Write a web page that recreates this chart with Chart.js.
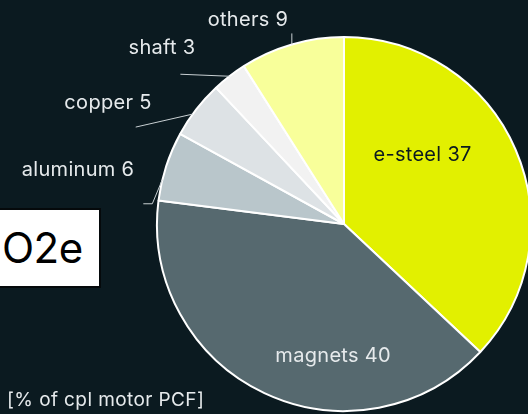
<!DOCTYPE html>
<html>
<head>
<meta charset="utf-8">
<script src="https://cdn.jsdelivr.net/npm/chart.js@4.4.1/dist/chart.umd.min.js"></script>
<style>
  html, body { margin: 0; padding: 0; background: #0b1a20; overflow: hidden; width: 528px; height: 414px; }
  #wrap { position: absolute; left: 0; top: 0; width: 540px; height: 414px; }
  #unit {
    position: absolute; left: -6px; top: 208px; width: 97px; height: 76px;
    background: #fff; border: 2px solid #05090b;
    font: 42px Inter, sans-serif; color: #000; line-height: 76px;
    padding-left: 6px; box-sizing: content-box; letter-spacing: -0.5px;
  }
  #note {
    position: absolute; left: 7px; top: 388px;
    font: 19px Inter, sans-serif; color: #e6eaec; white-space: nowrap; letter-spacing: 0.4px;
  }
</style>
</head>
<body>
<div id="wrap"><canvas id="pcfChart"></canvas></div>
<div id="unit">O2e</div>
<div id="note">[% of cpl motor PCF]</div>
<script>
const parts = ['e-steel', 'magnets', 'aluminum', 'copper', 'shaft', 'others'];
const shares = [37, 40, 6, 5, 3, 9];
const colors = ['#e2f000', '#56696f', '#b9c6cb', '#dde2e5', '#f2f2f2', '#f8ff9a'];

// label placement: inside labels as fraction of radius from centre,
// outside labels get a leader line from the slice edge
const labelSpots = [
  { inside: true, dx: 0.42, dy: -0.367, color: '#0b1a20' },
  { inside: true, dx: -0.058, dy: 0.707, color: '#e6eaec' },
  { t: 0.3, path: [[-10, 24], [-19, 24]], text: [78, 170] },
  { t: 0.4, path: [[-57, 13]], text: [108, 103] },
  { t: 0.5, path: [[-49, -2]], text: [162, 48] },
  { t: 0.5, path: [[0, -11]], text: [248, 20] }
];

const pieLabels = {
  id: 'pieLabels',
  afterDatasetsDraw(chart) {
    const ctx = chart.ctx;
    const arcs = chart.getDatasetMeta(0).data;
    ctx.save();
    ctx.font = '20px Inter, sans-serif';
    ctx.letterSpacing = '0.3px';
    ctx.textAlign = 'center';
    ctx.textBaseline = 'middle';
    arcs.forEach((arc, i) => {
      const spot = labelSpots[i];
      const text = parts[i] + ' ' + shares[i];
      const { x, y, outerRadius, startAngle, endAngle } = arc.getProps(['x', 'y', 'outerRadius', 'startAngle', 'endAngle'], true);
      if (spot.inside) {
        ctx.fillStyle = spot.color;
        ctx.fillText(text, x + spot.dx * outerRadius, y + spot.dy * outerRadius);
        return;
      }
      const a = startAngle + (endAngle - startAngle) * spot.t;
      const ex = x + Math.cos(a) * outerRadius;
      const ey = y + Math.sin(a) * outerRadius;
      ctx.strokeStyle = '#c9d0d3';
      ctx.lineWidth = 1;
      ctx.beginPath();
      ctx.moveTo(ex, ey);
      spot.path.forEach(p => ctx.lineTo(ex + p[0], ey + p[1]));
      ctx.stroke();
      ctx.fillStyle = '#e6eaec';
      ctx.fillText(text, spot.text[0], spot.text[1]);
    });
    ctx.restore();
  }
};

new Chart(document.getElementById('pcfChart'), {
  type: 'pie',
  data: {
    labels: parts,
    datasets: [{
      data: shares,
      backgroundColor: colors,
      borderColor: '#ffffff',
      borderWidth: 2
    }]
  },
  options: {
    responsive: true,
    maintainAspectRatio: false,
    animation: false,
    layout: { padding: { left: 156, right: 8, top: 36, bottom: 2 } },
    plugins: {
      legend: { display: false },
      tooltip: { enabled: false }
    }
  },
  plugins: [pieLabels]
});
</script>
</body>
</html>
